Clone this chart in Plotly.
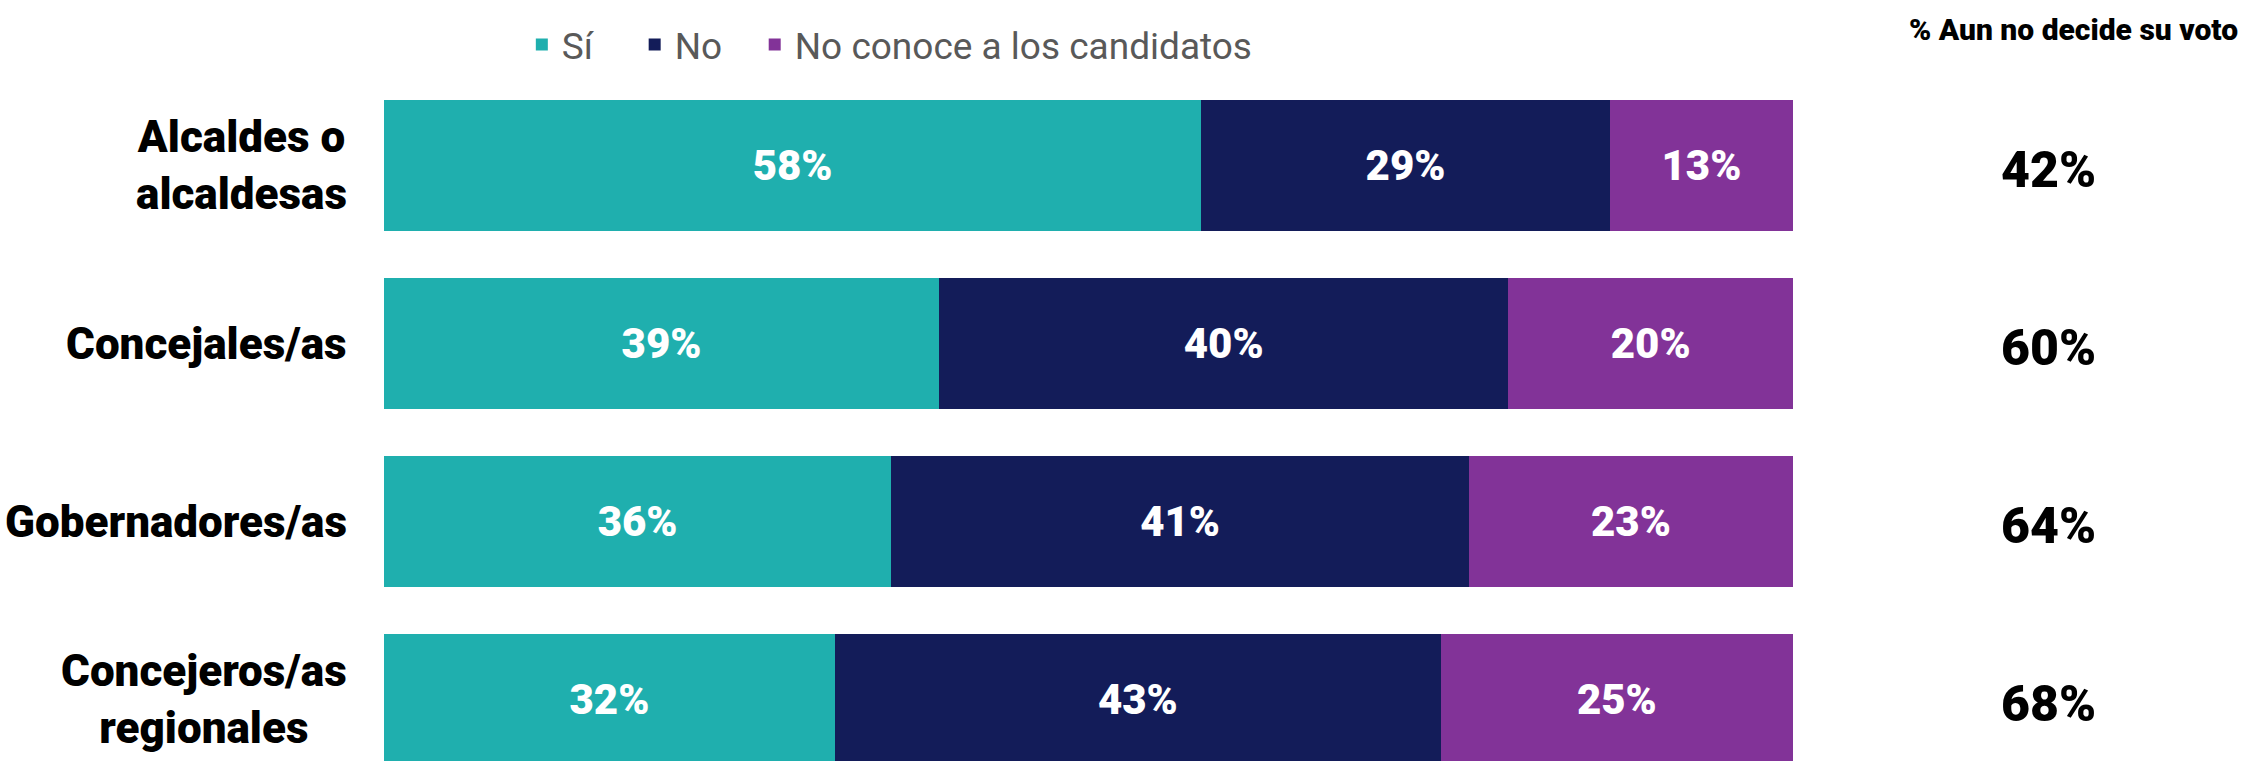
import plotly.graph_objects as go

# Data
categories = ["Alcaldes o<br>alcaldesas", "Concejales/as", "Gobernadores/as", "Concejeros/as<br>regionales"]
si = [58, 39, 36, 32]
no = [29, 40, 41, 43]
no_conoce = [13, 20, 23, 25]
aun_no_decide = [42, 60, 64, 68]

# legend names padded with non-breaking spaces to widen the gaps between entries
series = [
    ("Sí" + "\u00a0" * 4, si, "#1FAFAE"),
    ("No" + "\u00a0" * 3, no, "#131C59"),
    ("No conoce a los candidatos", no_conoce, "#823398"),
]

BOLD_FONT = "Roboto, Inter, sans-serif"

fig = go.Figure()
for name, values, color in series:
    fig.add_trace(go.Bar(
        name=name,
        y=categories,
        x=values,
        orientation="h",
        marker=dict(color=color, line=dict(width=0)),
        text=[f"{v}%" for v in values],
        textposition="inside",
        insidetextanchor="middle",
        textangle=0,
        constraintext="none",
        textfont=dict(family=BOLD_FONT, size=42, color="white", weight=900),
        hoverinfo="name+x",
    ))

# Category labels (centered lines, right side against the bars)
for cat in categories:
    fig.add_annotation(
        x=-0.025, xref="paper", y=cat, yref="y",
        text=cat, showarrow=False, xanchor="right", align="center",
        font=dict(family=BOLD_FONT, size=44, color="black", weight=900),
    )

# "% Aun no decide su voto" column
fig.add_annotation(
    x=1.199, xref="paper", y=0.961, yref="paper",
    text="% Aun no decide su voto", showarrow=False,
    xanchor="center", yanchor="middle",
    font=dict(family=BOLD_FONT, size=30, color="black", weight=900),
)
for cat, v in zip(categories, aun_no_decide):
    fig.add_annotation(
        x=1.181, xref="paper", y=cat, yref="y", yshift=-4,
        text=f"{v}%", showarrow=False, xanchor="center",
        font=dict(family=BOLD_FONT, size=50, color="black", weight=900),
    )

fig.update_layout(
    width=2249, height=761,
    margin=dict(l=384, r=456, t=0, b=0),
    barmode="stack",
    barnorm="percent",
    bargap=0.264,
    plot_bgcolor="white",
    paper_bgcolor="white",
    showlegend=True,
    legend=dict(
        orientation="h",
        x=0.359, xanchor="center",
        y=0.941, yanchor="middle",
        font=dict(family="Roboto, sans-serif", size=37, color="#595959"),
        traceorder="normal",
        bgcolor="rgba(0,0,0,0)",
    ),
    xaxis=dict(range=[0, 100], visible=False, fixedrange=True),
    yaxis=dict(
        categoryorder="array", categoryarray=categories,
        range=[3.343, -0.930], visible=False, fixedrange=True,
    ),
)

# drop the default page margin so the figure fills the window exactly
fig.write_html("out.html", config={"displayModeBar": False},
               post_script="document.body.style.margin='0';")
